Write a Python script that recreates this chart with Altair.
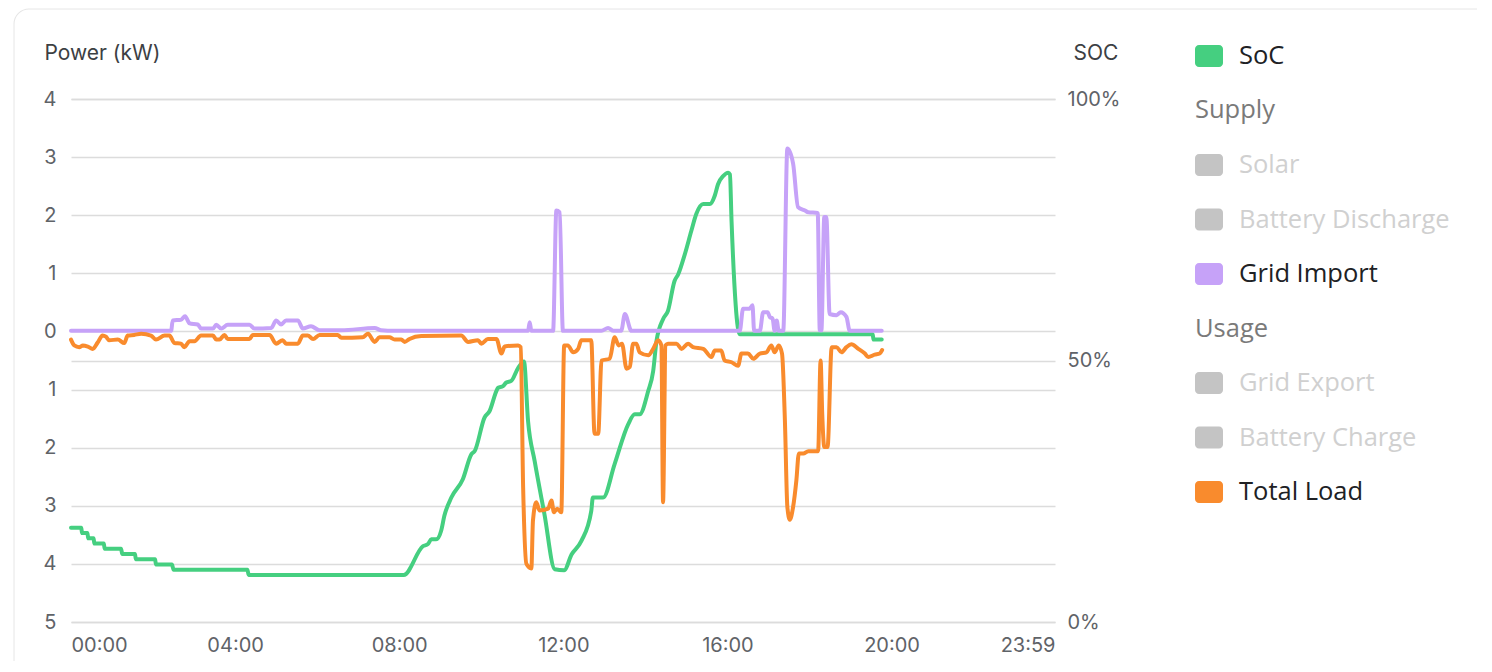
import altair as alt
import pandas as pd

# ---------------- data ----------------
# State of charge (%) : time in hours of day
soc_t = [0, 0.25, 0.27, 0.40, 0.42, 0.55, 0.57, 0.80, 0.82, 1.22, 1.25, 1.56, 1.58, 2.05, 2.07, 2.46, 2.50, 4.30, 4.33, 8.11,
         8.58, 8.70, 8.78, 8.90, 9.02, 9.10, 9.27, 9.55, 9.76, 9.84, 10.08, 10.20, 10.37, 10.41, 10.53, 10.61, 10.73, 10.90, 11.04,
         11.14, 11.30, 11.54, 11.79, 12.02, 12.20, 12.44, 12.68, 12.72, 12.97, 13.25, 13.58, 13.74, 13.86, 14.07, 14.19, 14.27, 14.43,
         14.55, 14.71, 14.80, 14.96, 15.12, 15.24, 15.41, 15.57, 15.69, 15.77, 15.90, 16.02, 16.06, 16.10, 16.30, 19.54, 19.56, 19.76]
soc_v = [18, 18, 17, 17, 16, 16, 15, 15, 14, 14, 13, 13, 12, 12, 11, 11, 10, 10, 9, 9,
         14.5, 14.9, 15.8, 15.8, 17.4, 20.3, 23.8, 27.3, 32.1, 32.7, 39.1, 40.3, 44.2, 44.8, 45.1, 45.8, 46.1, 48.6, 49.8,
         38.4, 30.8, 20.6, 10.1, 9.9, 12.9, 15.5, 21.2, 23.8, 23.8, 30.2, 37.8, 39.7, 39.7, 44.2, 48.0, 53.7, 57.9,
         59.5, 65.2, 66.5, 70.3, 74.8, 78.0, 79.9, 79.9, 81.5, 83.7, 85.3, 85.9, 85.6, 76.6, 55, 55, 54, 54]

# Grid import (kW)
grid_t = [0, 2.44, 2.48, 2.68, 2.78, 2.89, 3.09, 3.17, 3.46, 3.54, 3.66, 3.82, 4.35, 4.47, 4.88, 5.00, 5.12, 5.24, 5.53,
          5.65, 5.85, 6.06, 6.59, 7.40, 7.56, 7.88, 11.14, 11.18, 11.22, 11.75, 11.83, 11.91, 11.99, 12.93, 13.09, 13.22,
          13.41, 13.50, 13.66, 16.30, 16.38, 16.54, 16.61, 16.65, 16.79, 16.87, 16.98, 17.03, 17.10, 17.15, 17.20, 17.25,
          17.36, 17.46, 17.60, 17.72, 17.89, 17.97, 18.20, 18.25, 18.29, 18.36, 18.41, 18.49, 18.66, 18.76, 18.90, 18.98, 19.76]
grid_v = [0.01, 0.01, 0.19, 0.20, 0.26, 0.14, 0.12, 0.05, 0.05, 0.115, 0.05, 0.115, 0.115, 0.05, 0.06, 0.19, 0.12, 0.19, 0.19,
          0.05, 0.09, 0.02, 0.02, 0.06, 0.02, 0.01, 0.01, 0.16, 0.01, 0.01, 2.08, 2.05, 0.01, 0.01, 0.06, 0.01,
          0.01, 0.30, 0.01, 0.01, 0.39, 0.39, 0.45, 0.01, 0.01, 0.33, 0.33, 0.25, 0.22, 0.01, 0.19, 0.01,
          0.01, 3.15, 2.89, 2.14, 2.08, 2.05, 2.04, 0.02, 0.02, 1.97, 1.97, 0.30, 0.28, 0.33, 0.25, 0.01, 0.01]

# Total load (kW, drawn below zero)
load_t = [0.00, 0.08, 0.20, 0.29, 0.41, 0.53, 0.65, 0.77, 0.85, 0.93, 1.14, 1.30, 1.38, 1.54, 1.71, 1.95, 2.07, 2.28, 2.40,
          2.52, 2.68, 2.76, 2.89, 3.01, 3.17, 3.46, 3.54, 3.62, 3.74, 3.82, 4.35, 4.43, 4.84, 5.00, 5.16, 5.24, 5.53, 5.65,
          5.77, 5.90, 6.06, 6.50, 6.59, 7.11, 7.24, 7.40, 7.52, 7.76, 7.89, 8.05, 8.13, 8.25, 8.54, 9.51, 9.68, 9.92, 10.00,
          10.16, 10.37, 10.49, 10.57, 10.90, 10.96, 11.02, 11.10, 11.22, 11.26, 11.34, 11.42, 11.63, 11.71, 11.77, 11.85,
          11.95, 12.02, 12.11, 12.24, 12.36, 12.44, 12.68, 12.76, 12.85, 12.93, 13.13, 13.25, 13.35, 13.43, 13.54, 13.62,
          13.70, 13.78, 13.86, 14.07, 14.19, 14.31, 14.39, 14.43, 14.49, 14.55, 14.76, 14.88, 15.04, 15.16, 15.41, 15.61,
          15.69, 15.85, 15.93, 16.10, 16.26, 16.34, 16.50, 16.63, 16.79, 16.95, 17.07, 17.15, 17.25, 17.33, 17.40, 17.46,
          17.52, 17.60, 17.68, 17.74, 17.85, 17.97, 18.21, 18.27, 18.31, 18.36, 18.44, 18.54, 18.66, 18.78, 18.90, 19.02,
          19.19, 19.35, 19.43, 19.59, 19.71, 19.77]
load_v = [0.14, 0.24, 0.27, 0.24, 0.26, 0.30, 0.19, 0.07, 0.09, 0.15, 0.14, 0.20, 0.07, 0.06, 0.04, 0.07, 0.14, 0.07, 0.07,
          0.20, 0.21, 0.27, 0.17, 0.17, 0.07, 0.07, 0.14, 0.14, 0.06, 0.13, 0.13, 0.06, 0.06, 0.21, 0.15, 0.21, 0.21, 0.07,
          0.07, 0.13, 0.06, 0.06, 0.11, 0.10, 0.04, 0.18, 0.10, 0.10, 0.14, 0.14, 0.18, 0.13, 0.08, 0.07, 0.18, 0.15, 0.21,
          0.13, 0.13, 0.38, 0.26, 0.24, 0.27, 2.68, 4.00, 4.08, 3.25, 2.94, 3.08, 3.05, 2.91, 3.11, 3.05,
          3.11, 0.24, 0.24, 0.36, 0.30, 0.15, 0.15, 1.76, 1.76, 0.50, 0.47, 0.10, 0.24, 0.21, 0.64, 0.61,
          0.21, 0.21, 0.36, 0.41, 0.30, 0.15, 0.24, 2.94, 0.24, 0.21, 0.21, 0.30, 0.21, 0.27, 0.30, 0.44,
          0.33, 0.33, 0.50, 0.53, 0.59, 0.38, 0.38, 0.47, 0.38, 0.36, 0.24, 0.36, 0.24, 0.38, 1.53, 3.02,
          3.24, 3.02, 2.56, 2.10, 2.10, 2.06, 2.06, 0.50, 1.42, 1.99, 1.99, 0.27, 0.27, 0.36, 0.27, 0.22,
          0.30, 0.38, 0.44, 0.40, 0.38, 0.32]

x_ticks = [0, 4, 8, 12, 16, 20, 23.9833]
power_ticks = [-5, -4, -3, -2, -1, 0, 1, 2, 3, 4]
soc_ticks = [0, 50, 100]

legend_names = ["SoC", "Supply", "Solar", "Battery Discharge", "Grid Import",
                "Usage", "Grid Export", "Battery Charge", "Total Load"]
legend_kind = ["item", "header", "item", "item", "item", "header", "item", "item", "item"]
legend_active = [True, False, False, False, True, False, False, False, True]

# ---------------- styling ----------------
GREEN = "#45cf80"
PURPLE = "#c6a2f8"
ORANGE = "#f98b2d"
INACTIVE_SWATCH = "#c4c4c4"
swatch_colors = {"SoC": GREEN, "Grid Import": PURPLE, "Total Load": ORANGE}
FRAME = "#e6e6e6"

soc_df = pd.DataFrame({"t": soc_t, "soc": soc_v})
power_df = pd.concat([
    pd.DataFrame({"t": grid_t, "kw": grid_v, "series": "Grid Import"}),
    pd.DataFrame({"t": load_t, "kw": [-v for v in load_v], "series": "Total Load"}),
], ignore_index=True)

x_enc = alt.X(
    "t:Q",
    scale=alt.Scale(domain=[0, 23.9833], nice=False, zero=False),
    axis=alt.Axis(
        values=x_ticks,
        labelExpr="datum.value > 23.5 ? '23:59' : (datum.value < 10 ? '0' : '') + datum.value + ':00'",
        labelFlush=True, labelOverlap=False, grid=False, ticks=False, domain=False,
        labelPadding=13, title=None,
    ),
)

line_style = dict(interpolate="monotone", strokeWidth=4, strokeCap="round", strokeJoin="round")

soc_layer = alt.Chart(soc_df).mark_line(**line_style).encode(
    x=x_enc,
    y=alt.Y(
        "soc:Q",
        scale=alt.Scale(domain=[0, 100], nice=False, zero=False),
        axis=alt.Axis(
            orient="right", values=soc_ticks, labelExpr="datum.value + '%'",
            title="SOC", titleAngle=0, titleAlign="left", titleBaseline="middle",
            titleX=18, titleY=-46, grid=True, ticks=False, domain=False, labelPadding=12,
        ),
    ),
    color=alt.value(GREEN),
)

power_layer = alt.Chart(power_df).mark_line(**line_style).encode(
    x=x_enc,
    y=alt.Y(
        "kw:Q",
        scale=alt.Scale(domain=[-5, 4], nice=False, zero=False),
        axis=alt.Axis(
            orient="left", values=power_ticks, labelExpr="abs(datum.value)",
            title="Power (kW)", titleAngle=0, titleAlign="left", titleBaseline="middle",
            titleX=-27, titleY=-46, grid=True, ticks=False, domain=False, labelPadding=15,
        ),
    ),
    color=alt.Color("series:N",
                    scale=alt.Scale(domain=["Grid Import", "Total Load"], range=[PURPLE, ORANGE]),
                    legend=None),
)

# card frame decoration (left edge, top edge, rounded corner)
one = pd.DataFrame({"k": [1]})
frame_left = alt.Chart(one).mark_rule(color=FRAME, strokeWidth=1).encode(
    x=alt.value(-57), y=alt.value(-75), y2=alt.value(562))
frame_top = alt.Chart(one).mark_rule(color=FRAME, strokeWidth=1).encode(
    x=alt.value(-42), x2=alt.value(1406), y=alt.value(-90))
frame_corner = alt.Chart(one).mark_arc(
    radius=15.5, radius2=14.5, theta=4.7124, theta2=6.2832, color=FRAME).encode(
    x=alt.value(-42), y=alt.value(-75))

main = alt.layer(frame_left, frame_top, frame_corner, soc_layer, power_layer).resolve_scale(
    y="independent").properties(width=984, height=523)

# ---------------- custom legend ----------------
leg_df = pd.DataFrame({
    "name": legend_names,
    "kind": legend_kind,
    "pos": list(range(len(legend_names))),
})
leg_df["lo"] = leg_df["pos"] - 0.2
leg_df["hi"] = leg_df["pos"] + 0.2
leg_df["swatch"] = [swatch_colors.get(n, INACTIVE_SWATCH) for n in legend_names]
leg_df["tcolor"] = [
    ("#7a7a7a" if k == "header" else ("#202124" if a else "#d0d0d0"))
    for k, a in zip(legend_kind, legend_active)
]

leg_scale = alt.Scale(domain=[0.789, 10.385], reverse=True, nice=False, zero=False)
leg_base = alt.Chart(leg_df)

leg_rect = leg_base.transform_filter(alt.datum.kind == "item").mark_rect(cornerRadius=4).encode(
    x=alt.value(0), x2=alt.value(28),
    y=alt.Y("lo:Q", scale=leg_scale, axis=None), y2="hi:Q",
    color=alt.Color("swatch:N", scale=None),
)
leg_item_text = leg_base.transform_filter(alt.datum.kind == "item").mark_text(
    align="left", baseline="middle", font="Open Sans", fontSize=25.5).encode(
    x=alt.value(44), y=alt.Y("pos:Q", scale=leg_scale, axis=None),
    text="name:N", color=alt.Color("tcolor:N", scale=None),
)
leg_head_text = leg_base.transform_filter(alt.datum.kind == "header").mark_text(
    align="left", baseline="middle", font="Open Sans", fontSize=25.5).encode(
    x=alt.value(0), y=alt.Y("pos:Q", scale=leg_scale, axis=None),
    text="name:N", color=alt.Color("tcolor:N", scale=None),
)
legend = alt.layer(leg_rect, leg_item_text, leg_head_text).properties(width=280, height=523)

chart = alt.hconcat(main, legend, spacing=140, bounds="flush").properties(
    padding={"left": 5, "top": 0, "right": 0, "bottom": 0}
).configure_view(stroke=None).configure_axis(
    labelFont="Inter", titleFont="Inter", labelFontSize=20, titleFontSize=21,
    labelColor="#5f6368", titleColor="#3c4043", titleFontWeight="normal",
    gridColor="#dcdcdc", gridWidth=1.5,
)

chart.save("out.html", embed_options={"renderer": "svg", "actions": False})
